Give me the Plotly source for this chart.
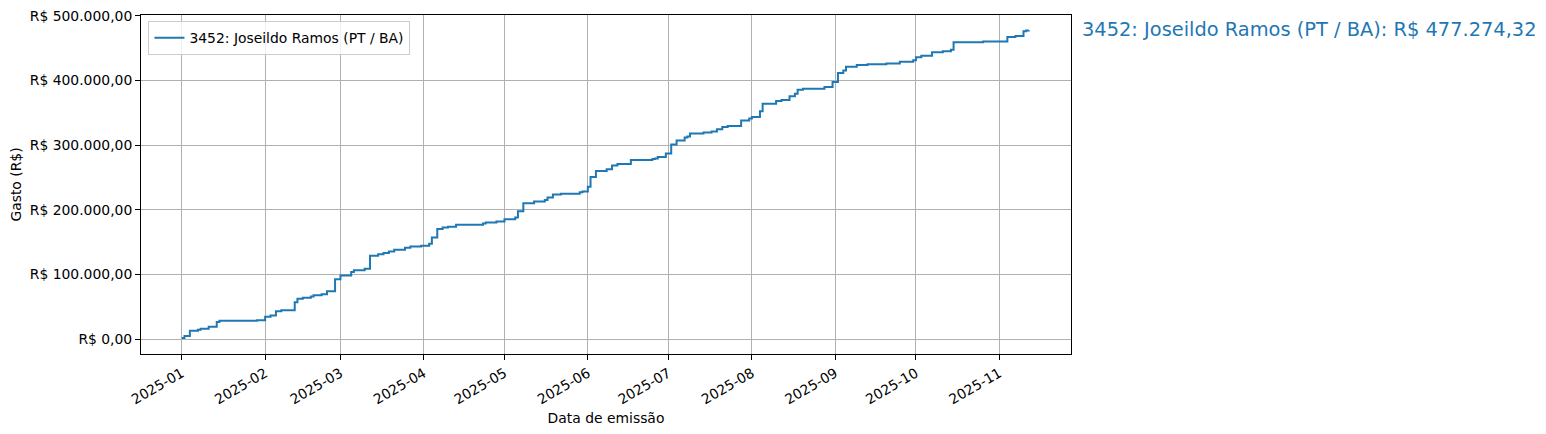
import plotly.graph_objects as go

dates = [
    "2025-01-01", "2025-01-02", "2025-01-04", "2025-01-07", "2025-01-08", "2025-01-11",
    "2025-01-14", "2025-01-15", "2025-01-29", "2025-02-01", "2025-02-03", "2025-02-05",
    "2025-02-07", "2025-02-12", "2025-02-13", "2025-02-15", "2025-02-18", "2025-02-19",
    "2025-02-22", "2025-02-24", "2025-02-27", "2025-03-01", "2025-03-05", "2025-03-06",
    "2025-03-10", "2025-03-12", "2025-03-15", "2025-03-17", "2025-03-19", "2025-03-21",
    "2025-03-25", "2025-03-27", "2025-03-31", "2025-04-03", "2025-04-04", "2025-04-06",
    "2025-04-08", "2025-04-10", "2025-04-13", "2025-04-23", "2025-04-24", "2025-04-28",
    "2025-05-01", "2025-05-05", "2025-05-06", "2025-05-08", "2025-05-12", "2025-05-16",
    "2025-05-17", "2025-05-19", "2025-05-22", "2025-05-29", "2025-05-30", "2025-06-01",
    "2025-06-02", "2025-06-04", "2025-06-08", "2025-06-10", "2025-06-12", "2025-06-17",
    "2025-06-25", "2025-06-26", "2025-06-27", "2025-06-30", "2025-07-02", "2025-07-04",
    "2025-07-07", "2025-07-08", "2025-07-09", "2025-07-14", "2025-07-17", "2025-07-19",
    "2025-07-21", "2025-07-23", "2025-07-28", "2025-07-31", "2025-08-01", "2025-08-04",
    "2025-08-05", "2025-08-10", "2025-08-12", "2025-08-15", "2025-08-17", "2025-08-18",
    "2025-08-20", "2025-08-28", "2025-08-31", "2025-09-02", "2025-09-04", "2025-09-05",
    "2025-09-09", "2025-09-13", "2025-09-20", "2025-09-25", "2025-09-30", "2025-10-01",
    "2025-10-03", "2025-10-07", "2025-10-11", "2025-10-14", "2025-10-15", "2025-10-26",
    "2025-11-04", "2025-11-07", "2025-11-10", "2025-11-11", "2025-11-12",
]

gasto_acumulado = [
    2000, 5100, 13300, 14900, 16400, 19500,
    26700, 28700, 29700, 34900, 36900, 43600,
    45100, 57400, 62600, 64100, 66200, 68200,
    69700, 74400, 92800, 98500, 104100, 106700,
    109200, 129200, 131300, 133300, 135900, 138500,
    141500, 143600, 144600, 147500, 157400, 170300,
    172800, 173800, 176900, 179000, 180500, 182000,
    185600, 188200, 197900, 210300, 212800, 215400,
    219000, 223600, 225100, 227200, 228200, 235900,
    250800, 260000, 262600, 268700, 270800, 276900,
    278500, 279500, 281700, 287000, 301000, 307300,
    311800, 313300, 317800, 319500, 321000, 324600,
    328200, 329700, 338000, 341000, 343600, 352300,
    364100, 368200, 369700, 375400, 379500, 385600,
    387200, 389700, 397400, 411300, 415400, 421000,
    423600, 425100, 426200, 428700, 431300, 435900,
    437900, 443600, 445100, 447200, 459000, 460000,
    467200, 468700, 475900, 477000, 477274.32,
]

serie_nome = "3452: Joseildo Ramos (PT / BA)"
total_label = "3452: Joseildo Ramos (PT / BA): R$ 477.274,32"

y_ticks = [0, 100000, 200000, 300000, 400000, 500000]
y_tick_labels = ["R$ 0,00", "R$ 100.000,00", "R$ 200.000,00",
                 "R$ 300.000,00", "R$ 400.000,00", "R$ 500.000,00"]
x_ticks = ["2025-01-01", "2025-02-01", "2025-03-01", "2025-04-01", "2025-05-01",
           "2025-06-01", "2025-07-01", "2025-08-01", "2025-09-01", "2025-10-01",
           "2025-11-01"]
x_tick_labels = ["2025-01", "2025-02", "2025-03", "2025-04", "2025-05", "2025-06",
                 "2025-07", "2025-08", "2025-09", "2025-10", "2025-11"]

BLUE = "#1f77b4"
FONT = "DejaVu Sans"

fig = go.Figure()
fig.add_trace(go.Scatter(
    x=dates, y=gasto_acumulado, mode="lines", name=serie_nome,
    line=dict(color=BLUE, width=2, shape="hv"),
))

fig.add_annotation(
    text=total_label, xref="paper", yref="paper", x=1.0097, y=0.958,
    xanchor="left", yanchor="middle", showarrow=False,
    font=dict(family=FONT, size=19.4, color=BLUE),
)

axis_common = dict(
    showline=True, linecolor="black", linewidth=1, mirror=True,
    ticks="outside", ticklen=5, tickcolor="black", tickwidth=1,
    showgrid=True, gridcolor="#b0b0b0", gridwidth=1, zeroline=False,
    automargin=False, ticklabeloverflow="allow",
    tickfont=dict(family=FONT, size=13.9, color="black"),
)

# the page body adds an 8px offset, so the figure is 8px smaller at left/top
fig.update_layout(
    width=1538, height=426,
    margin=dict(l=133, r=475, t=7, b=80),
    paper_bgcolor="white", plot_bgcolor="white",
    font=dict(family=FONT, size=13.9, color="black"),
    showlegend=True,
    legend=dict(x=0.008, y=0.982, xanchor="left", yanchor="top",
                bgcolor="rgba(255,255,255,0.8)", bordercolor="#cccccc", borderwidth=1,
                font=dict(family=FONT, size=13.9, color="black")),
    xaxis=dict(
        **axis_common, type="date",
        range=["2024-12-16 20:00", "2025-11-27 16:00"],
        tickmode="array", tickvals=x_ticks, ticktext=x_tick_labels, tickangle=-30,
        title=dict(text="Data de emissão", font=dict(family=FONT, size=13.9), standoff=6),
    ),
    yaxis=dict(
        **axis_common,
        range=[-22600, 501000],
        tickmode="array", tickvals=y_ticks, ticktext=y_tick_labels,
        title=dict(text="Gasto (R$)", font=dict(family=FONT, size=13.9), standoff=5),
    ),
)

fig.write_html("out.html")
